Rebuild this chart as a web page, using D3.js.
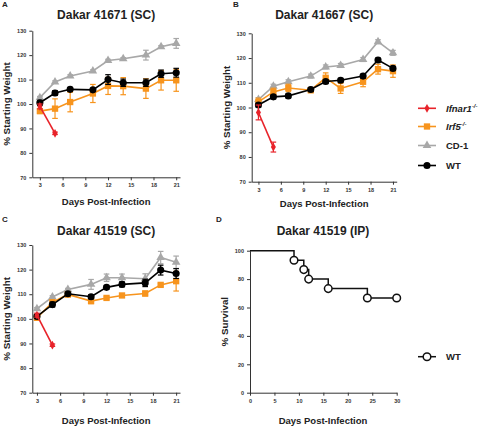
<!DOCTYPE html>
<html>
<head>
<meta charset="utf-8">
<script src="https://cdn.jsdelivr.net/npm/d3@7"></script>
<style>
  body { margin: 0; background: #fff; }
  svg { display: block; font-family: "Liberation Sans", Arial, sans-serif; font-weight: bold; }
</style>
</head>
<body>
<svg id="chart" width="480" height="430"></svg>
<script>
'use strict';

// days of weight measurement
const days = [3, 5, 7, 10, 12, 14, 17, 19, 21];
const ifnarDays = [3, 5];
const weightTicks = [3, 6, 9, 12, 15, 18, 21];

// panel A - Dakar 41671 (SC)
const aCd1 = [102.6, 109, 111.5, 113.5, 117.8, 118.5, 120, 123.4, 124.8];
const aCd1Err = [0.5, 0.5, 0.5, 0.5, 0.5, 0.5, 2, 0.5, 2];
const aWt = [100.5, 104.5, 106, 105.8, 110, 108.7, 108.7, 112.4, 112.8];
const aWtErr = [1, 1, 0.8, 0.5, 2, 1.5, 1.5, 1.5, 1.8];
const aIrf5 = [97.1, 98.1, 100.8, 104.3, 107.4, 107.3, 106.3, 109.7, 109.7];
const aIrf5Err = [1, 4, 4, 3.7, 3.5, 3.5, 4, 4, 4.5];
const aIfnar = [99, 88];
const aIfnarErr = [1, 0.5];

// panel B - Dakar 41667 (SC)
const bCd1 = [103.2, 108.6, 110.4, 112.7, 116.4, 117, 119.4, 126.6, 122.1];
const bCd1Err = [0.8, 0.8, 0.8, 0.8, 0.8, 0.8, 0.8, 0.8, 1];
const bWt = [101, 104.3, 104.7, 107.3, 110.5, 111, 112.7, 119.2, 115.8];
const bWtErr = [0.8, 0.8, 0.8, 0.8, 0.8, 0.8, 0.8, 0.8, 0.8];
const bIrf5 = [102.3, 106.3, 107.9, 107, 112, 107.7, 110.4, 115.5, 114.7];
const bIrf5Err = [1.5, 1.5, 1.5, 1, 2, 2, 2, 2, 2.5];
const bIfnar = [98, 84];
const bIfnarErr = [3, 2];

// panel C - Dakar 41519 (SC)
const cCd1 = [104.1, 108.9, 111.9, 114, 116.7, 116.7, 116.3, 124.9, 123];
const cCd1Err = [0.5, 0.5, 0.5, 2, 1.5, 1.5, 2, 2.5, 2.5];
const cWt = [101, 105.8, 110.2, 109, 112.8, 114, 114.6, 119.8, 118.4];
const cWtErr = [0.5, 1, 0.5, 0.8, 0.8, 1, 1.5, 2, 2];
const cIrf5 = [100.4, 106.7, 109.9, 107.2, 108.5, 109.5, 110.3, 113.8, 115.3];
const cIrf5Err = [0.5, 1, 1, 1, 0.5, 0.5, 1, 0.5, 4];
const cIfnar = [101.5, 89.3];
const cIfnarErr = [0.8, 0.5];

// panel D - Dakar 41519 (IP) survival
const survDays = [0, 9, 11, 12, 16, 24, 30];
const survPct = [100, 93.3, 86.7, 80, 73.3, 66.7, 66.7];
const survTicksX = [0, 5, 10, 15, 20, 25, 30];
const survTicksY = [0, 20, 40, 60, 80, 100];

const colors = { ifnar: '#e8232a', irf5: '#f7941d', cd1: '#a8a8a8', wt: '#000000' };

const svg = d3.select('#chart');

function symbolFor(kind) {
  if (kind === 'wt') return d3.symbol(d3.symbolCircle, 40);
  if (kind === 'irf5') return d3.symbol(d3.symbolSquare, 40);
  if (kind === 'cd1') return d3.symbol(d3.symbolTriangle, 32);
  return d3.symbol(d3.symbolDiamond, 22);
}

function styleAxis(axisG) {
  axisG.selectAll('path, line').attr('stroke', '#333').attr('stroke-width', 1);
  axisG.selectAll('text')
    .attr('font-size', 5.5)
    .attr('font-family', '"Liberation Sans", Arial, sans-serif')
    .attr('font-weight', 'bold')
    .attr('fill', '#333');
}

function drawSeries(g, x, y, xs, vals, errs, kind) {
  const color = colors[kind];
  const pts = xs.map((d, i) => ({ day: d, v: vals[i], e: errs[i] }));
  const s = g.append('g');

  // error bars
  pts.forEach(p => {
    const cap = 2.8;
    s.append('line')
      .attr('x1', x(p.day)).attr('x2', x(p.day))
      .attr('y1', y(p.v - p.e)).attr('y2', y(p.v + p.e))
      .attr('stroke', color).attr('stroke-width', 1.2);
    [p.v - p.e, p.v + p.e].forEach(ev => {
      s.append('line')
        .attr('x1', x(p.day) - cap).attr('x2', x(p.day) + cap)
        .attr('y1', y(ev)).attr('y2', y(ev))
        .attr('stroke', color).attr('stroke-width', 1.2);
    });
  });

  s.append('path')
    .datum(pts)
    .attr('fill', 'none')
    .attr('stroke', color)
    .attr('stroke-width', 1.6)
    .attr('d', d3.line().x(d => x(d.day)).y(d => y(d.v)));

  s.selectAll('path.pt')
    .data(pts)
    .join('path')
    .attr('class', 'pt')
    .attr('transform', d => `translate(${x(d.day)},${y(d.v)})`)
    .attr('d', symbolFor(kind))
    .attr('fill', color);
}

function drawWeightPanel(cfg) {
  const x = d3.scaleLinear().domain(cfg.xDomain).range(cfg.xRange);
  const y = d3.scaleLinear().domain([70, 130]).range(cfg.yRange);
  const g = svg.append('g');

  const xAxis = g.append('g')
    .attr('transform', `translate(0,${cfg.yRange[0]})`)
    .call(d3.axisBottom(x).tickValues(weightTicks).tickSize(3).tickSizeOuter(0).tickPadding(3));
  styleAxis(xAxis);

  const yAxis = g.append('g')
    .attr('transform', `translate(${cfg.xRange[0]},0)`)
    .call(d3.axisLeft(y).tickValues(d3.range(70, 131, 10)).tickSize(3).tickSizeOuter(0).tickPadding(3));
  styleAxis(yAxis);

  drawSeries(g, x, y, days, cfg.cd1, cfg.cd1Err, 'cd1');
  drawSeries(g, x, y, days, cfg.irf5, cfg.irf5Err, 'irf5');
  drawSeries(g, x, y, days, cfg.wt, cfg.wtErr, 'wt');
  drawSeries(g, x, y, ifnarDays, cfg.ifnar, cfg.ifnarErr, 'ifnar');

  const cx = (cfg.xRange[0] + cfg.xRange[1]) / 2;
  g.append('text').attr('x', cx).attr('y', cfg.titleY)
    .attr('text-anchor', 'middle').attr('font-size', 12).attr('fill', '#222').text(cfg.title);
  g.append('text').attr('x', cx).attr('y', cfg.xLabelY)
    .attr('text-anchor', 'middle').attr('font-size', 9.5).attr('fill', '#222').text('Days Post-Infection');
  const ym = (cfg.yRange[0] + cfg.yRange[1]) / 2;
  g.append('text')
    .attr('transform', `translate(${cfg.yLabelX},${ym}) rotate(-90)`)
    .attr('text-anchor', 'middle').attr('font-size', 9.8).attr('fill', '#222').text('% Starting Weight');
}

drawWeightPanel({
  title: 'Dakar 41671 (SC)', xDomain: [2, 21.5], xRange: [32.3, 180], yRange: [177.3, 30.7],
  titleY: 19, xLabelY: 205, yLabelX: 10,
  cd1: aCd1, cd1Err: aCd1Err, wt: aWt, wtErr: aWtErr, irf5: aIrf5, irf5Err: aIrf5Err, ifnar: aIfnar, ifnarErr: aIfnarErr
});
drawWeightPanel({
  title: 'Dakar 41667 (SC)', xDomain: [2.1, 21.5], xRange: [251.7, 396.7], yRange: [181.7, 33.3],
  titleY: 19, xLabelY: 207, yLabelX: 230,
  cd1: bCd1, cd1Err: bCd1Err, wt: bWt, wtErr: bWtErr, irf5: bIrf5, irf5Err: bIrf5Err, ifnar: bIfnar, ifnarErr: bIfnarErr
});
drawWeightPanel({
  title: 'Dakar 41519 (SC)', xDomain: [2.4, 21.5], xRange: [32.3, 180], yRange: [392.7, 245],
  titleY: 235, xLabelY: 424, yLabelX: 10,
  cd1: cCd1, cd1Err: cCd1Err, wt: cWt, wtErr: cWtErr, irf5: cIrf5, irf5Err: cIrf5Err, ifnar: cIfnar, ifnarErr: cIfnarErr
});

// panel D survival
(function () {
  const x = d3.scaleLinear().domain([0, 30]).range([250, 396.7]);
  const y = d3.scaleLinear().domain([0, 100]).range([392.7, 250.7]);
  const g = svg.append('g');

  const xAxis = g.append('g').attr('transform', 'translate(0,392.7)')
    .call(d3.axisBottom(x).tickValues(survTicksX).tickSize(3).tickSizeOuter(0).tickPadding(3));
  styleAxis(xAxis);
  const yAxis = g.append('g').attr('transform', 'translate(250,0)')
    .call(d3.axisLeft(y).tickValues(survTicksY).tickSize(3).tickSizeOuter(0).tickPadding(3));
  styleAxis(yAxis);

  const pts = survDays.map((d, i) => ({ day: d, v: survPct[i] }));
  // Kaplan-Meier style: hold level until the next event, then drop
  g.append('path').datum(pts)
    .attr('fill', 'none').attr('stroke', '#111').attr('stroke-width', 1.5)
    .attr('d', d3.line().curve(d3.curveStepAfter).x(d => x(d.day)).y(d => y(d.v)));

  g.selectAll('circle.pt').data(pts.slice(1)).join('circle')
    .attr('class', 'pt')
    .attr('cx', d => x(d.day)).attr('cy', d => y(d.v)).attr('r', 3.8)
    .attr('fill', '#fff').attr('stroke', '#111').attr('stroke-width', 1.5);

  g.append('text').attr('x', 323).attr('y', 235)
    .attr('text-anchor', 'middle').attr('font-size', 12).attr('fill', '#222').text('Dakar 41519 (IP)');
  g.append('text').attr('x', 323).attr('y', 424)
    .attr('text-anchor', 'middle').attr('font-size', 9.5).attr('fill', '#222').text('Days Post-Infection');
  g.append('text').attr('transform', 'translate(228,321.7) rotate(-90)')
    .attr('text-anchor', 'middle').attr('font-size', 9.8).attr('fill', '#222').text('% Survival');

  // legend
  const lg = g.append('g').attr('transform', 'translate(0,356.7)');
  lg.append('line').attr('x1', 418).attr('x2', 436).attr('stroke', '#111').attr('stroke-width', 1.5);
  lg.append('circle').attr('cx', 427).attr('r', 3.8).attr('fill', '#fff').attr('stroke', '#111').attr('stroke-width', 1.5);
  lg.append('text').attr('x', 446).attr('y', 3.5).attr('font-size', 9.5).attr('fill', '#222').text('WT');
})();

// legend for weight panels
const legendItems = [
  { kind: 'ifnar', name: 'Ifnar1', sup: '-/-', y: 108.3 },
  { kind: 'irf5', name: 'Irf5', sup: '-/-', y: 126.5 },
  { kind: 'cd1', name: 'CD-1', sup: null, y: 145.5 },
  { kind: 'wt', name: 'WT', sup: null, y: 165.5 }
];
legendItems.forEach(it => {
  const lg = svg.append('g').attr('transform', `translate(0,${it.y})`);
  lg.append('line').attr('x1', 418).attr('x2', 436)
    .attr('stroke', colors[it.kind]).attr('stroke-width', 1.6);
  lg.append('path').attr('transform', 'translate(427,0)')
    .attr('d', symbolFor(it.kind)).attr('fill', colors[it.kind]);
  const t = lg.append('text').attr('x', 446).attr('y', 3.5).attr('font-size', 9.5).attr('fill', '#222');
  if (it.sup) {
    t.attr('font-style', 'italic');
    t.append('tspan').text(it.name);
    t.append('tspan').attr('font-size', 6).attr('dy', -4).text(it.sup);
  } else {
    t.text(it.name);
  }
});

// panel letters
[['A', 2, 7], ['B', 233, 7], ['C', 2, 222], ['D', 216, 222]].forEach(([l, lx, ly]) => {
  svg.append('text').attr('x', lx).attr('y', ly).attr('font-size', 8).attr('fill', '#222').text(l);
});
</script>
</body>
</html>
